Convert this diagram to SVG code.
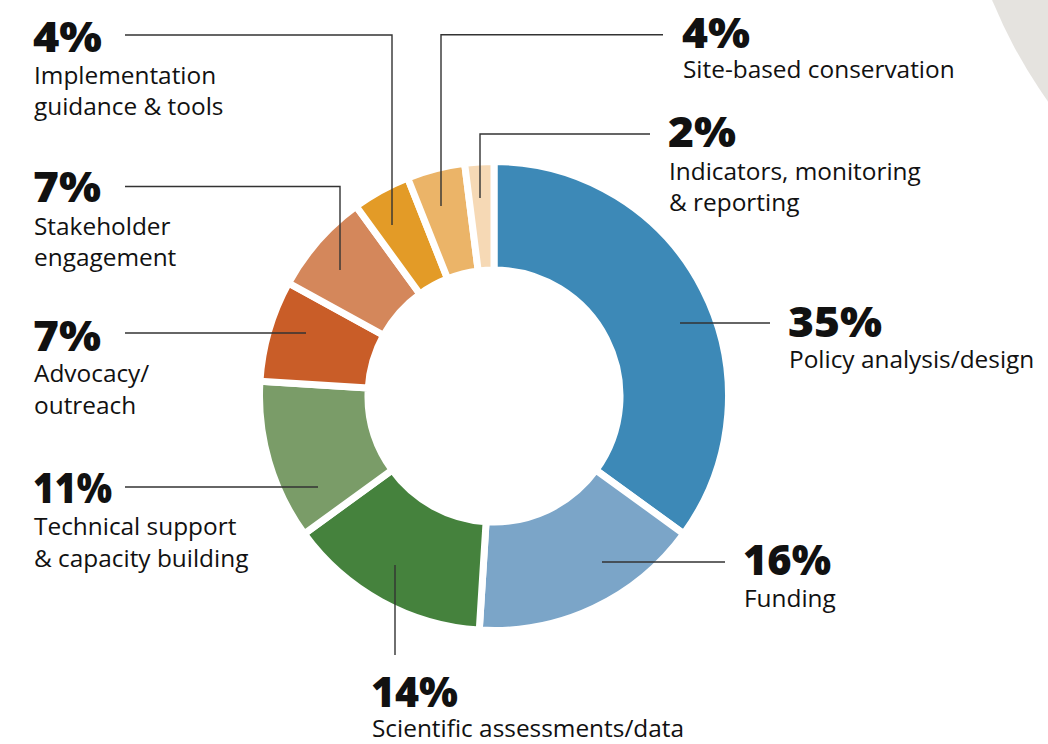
<svg xmlns="http://www.w3.org/2000/svg" width="1048" height="744" viewBox="0 0 1048 744">
<style>
.seg{stroke:#fff;stroke-width:7;stroke-linejoin:miter}
.pct{font-family:"Open Sans","Liberation Sans",sans-serif;font-weight:800;font-size:43px;fill:#111}
.lbl{font-family:"Open Sans","Liberation Sans",sans-serif;font-size:24.4px;fill:#111}
.lead{fill:none;stroke:#333;stroke-width:1.4}
</style>
<rect width="1048" height="744" fill="#fff"/>
<circle id="bg-circle" cx="1455" cy="-189" r="500" fill="#e5e3df"/>
<g id="donut">
<path id="seg-policy" class="seg" fill="#3d89b7" d="M494,161.5 A234.5,234.5 0 0 1 683.72,533.84 L595.94,470.06 A126,126 0 0 0 494,270 Z"/>
<path id="seg-funding" class="seg" fill="#7ba5c8" d="M683.72,533.84 A234.5,234.5 0 0 1 479.28,630.04 L486.09,521.75 A126,126 0 0 0 595.94,470.06 Z"/>
<path id="seg-scientific" class="seg" fill="#45823d" d="M479.28,630.04 A234.5,234.5 0 0 1 304.28,533.84 L392.06,470.06 A126,126 0 0 0 486.09,521.75 Z"/>
<path id="seg-technical" class="seg" fill="#7a9c68" d="M304.28,533.84 A234.5,234.5 0 0 1 259.96,381.28 L368.25,388.09 A126,126 0 0 0 392.06,470.06 Z"/>
<path id="seg-advocacy" class="seg" fill="#c95d28" d="M259.96,381.28 A234.5,234.5 0 0 1 288.51,283.03 L383.58,335.30 A126,126 0 0 0 368.25,388.09 Z"/>
<path id="seg-stakeholder" class="seg" fill="#d4875b" d="M288.51,283.03 A234.5,234.5 0 0 1 356.16,206.28 L419.94,294.06 A126,126 0 0 0 383.58,335.30 Z"/>
<path id="seg-implementation" class="seg" fill="#e39b27" d="M356.16,206.28 A234.5,234.5 0 0 1 407.68,177.97 L447.62,278.85 A126,126 0 0 0 419.94,294.06 Z"/>
<path id="seg-site" class="seg" fill="#ebb468" d="M407.68,177.97 A234.5,234.5 0 0 1 464.61,163.35 L478.21,270.99 A126,126 0 0 0 447.62,278.85 Z"/>
<path id="seg-indicators" class="seg" fill="#f6d9b5" d="M464.61,163.35 A234.5,234.5 0 0 1 494,161.5 L494,270 A126,126 0 0 0 478.21,270.99 Z"/>
</g>
<g id="connectors">
<path class="lead" d="M125,35 H392 V225"/>
<path class="lead" d="M125,186.5 H340 V270"/>
<path class="lead" d="M125,333 H306"/>
<path class="lead" d="M125,487 H318"/>
<path class="lead" d="M395,565 V655"/>
<path class="lead" d="M602,562 H725"/>
<path class="lead" d="M680,323 H770"/>
<path class="lead" d="M663,34.7 H441 V206"/>
<path class="lead" d="M650,134 H480 V198"/>
</g>
<g id="label-implementation">
<text class="pct" x="33" y="52" textLength="69" lengthAdjust="spacingAndGlyphs">4%</text>
<text class="lbl" x="34" y="84">Implementation</text>
<text class="lbl" x="34" y="115">guidance &amp; tools</text>
</g>
<g id="label-stakeholder">
<text class="pct" x="33" y="202" textLength="68" lengthAdjust="spacingAndGlyphs">7%</text>
<text class="lbl" x="34" y="235">Stakeholder</text>
<text class="lbl" x="34" y="266">engagement</text>
</g>
<g id="label-advocacy">
<text class="pct" x="33" y="351" textLength="68" lengthAdjust="spacingAndGlyphs">7%</text>
<text class="lbl" x="34" y="382">Advocacy/</text>
<text class="lbl" x="34" y="414">outreach</text>
</g>
<g id="label-technical">
<text class="pct" x="33" y="503" textLength="79" lengthAdjust="spacingAndGlyphs">11%</text>
<text class="lbl" x="34" y="535">Technical support</text>
<text class="lbl" x="34" y="567">&amp; capacity building</text>
</g>
<g id="label-scientific">
<text class="pct" x="371" y="707" textLength="87" lengthAdjust="spacingAndGlyphs">14%</text>
<text class="lbl" x="372" y="737">Scientific assessments/data</text>
</g>
<g id="label-funding">
<text class="pct" x="743" y="575" textLength="88" lengthAdjust="spacingAndGlyphs">16%</text>
<text class="lbl" x="744" y="607">Funding</text>
</g>
<g id="label-policy">
<text class="pct" x="788" y="337" textLength="94" lengthAdjust="spacingAndGlyphs">35%</text>
<text class="lbl" x="789" y="368">Policy analysis/design</text>
</g>
<g id="label-site">
<text class="pct" x="682" y="48" textLength="68" lengthAdjust="spacingAndGlyphs">4%</text>
<text class="lbl" x="683" y="78">Site-based conservation</text>
</g>
<g id="label-indicators">
<text class="pct" x="668" y="147" textLength="68" lengthAdjust="spacingAndGlyphs">2%</text>
<text class="lbl" x="669" y="180">Indicators, monitoring</text>
<text class="lbl" x="669" y="211">&amp; reporting</text>
</g>
</svg>
